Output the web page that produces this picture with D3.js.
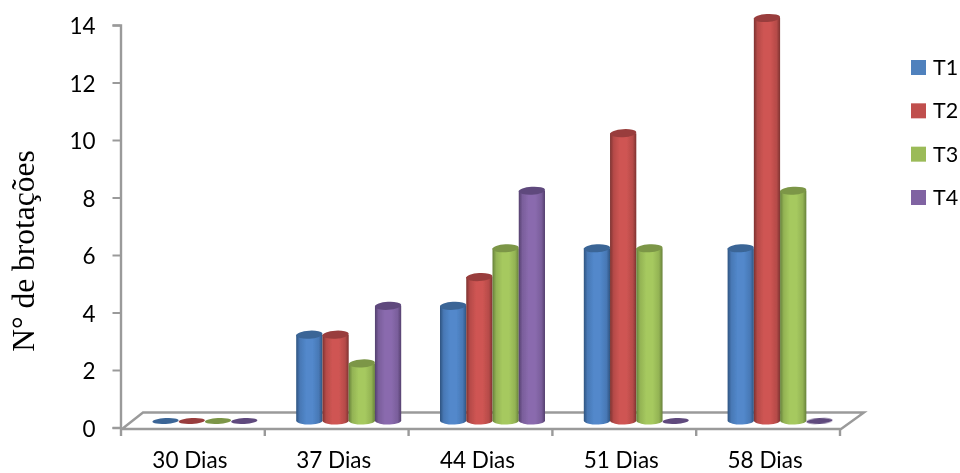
<!DOCTYPE html>
<html><head><meta charset="utf-8">
<script src="https://cdn.jsdelivr.net/npm/d3@7"></script>
<style>html,body{margin:0;padding:0;background:#fff}svg{display:block}</style>
</head><body><svg id="c" width="960" height="473"></svg>
<script>
const categories = ["30 Dias","37 Dias","44 Dias","51 Dias","58 Dias"];
const seriesNames = ["T1","T2","T3","T4"];
const t1 = [0,3,4,6,6];
const t2 = [0,3,5,10,14];
const t3 = [0,2,6,6,8];
const t4 = [0,4,8,0,0];
const seriesValues = [t1,t2,t3,t4];
const yTicks = [0,2,4,6,8,10,12,14];
const baseColors = ["#4f81bd","#c0504d","#9bbb59","#8064a2"];
const mid = ["#5288cb","#cf5553","#a6c95f","#8a6bae"];
const edge = ["#2f5480","#7d3230","#66803a","#54406e"];
const cap = ["#3a6596","#993e3c","#7b9647","#5f4a7d"];

const svg = d3.select("#c");
const gridCol = "#9a9a9a";
const defs = svg.append("defs");
const blur = defs.append("filter").attr("id","soft").attr("x","-5%").attr("y","-5%").attr("width","110%").attr("height","110%");
blur.append("feGaussianBlur").attr("stdDeviation",0.5);
baseColors.forEach((c,i)=>{
  const g = defs.append("linearGradient").attr("id","g"+i);
  [[0,edge[i]],[0.14,d3.interpolateRgb(edge[i],mid[i])(0.7)],[0.38,mid[i]],[0.62,mid[i]],[0.86,d3.interpolateRgb(edge[i],mid[i])(0.7)],[1,edge[i]]]
    .forEach(s=>g.append("stop").attr("offset",s[0]).attr("stop-color",s[1]));
});

const root = svg.append("g").attr("filter","url(#soft)");
const axisY = d3.scaleLinear().domain([0,14]).range([427.5,25]);
const barY = d3.scaleLinear().domain([0,14]).range([421,18]);
const xTick = d3.scalePoint().domain(d3.range(6)).range([121,840]);
const x0 = d3.scaleBand().domain(categories).range([121,840]).paddingInner(0).paddingOuter(0);
const gw = 105;
const x1 = d3.scaleBand().domain(seriesNames).range([0,gw]);

// floor
const floor = root.append("g").attr("fill","none").attr("stroke",gridCol).attr("stroke-width",2.4);
floor.append("path").attr("d",d3.line()([[122,429],[143,412.5],[864,412.5],[841,429],[122,429]]));
floor.selectAll("line.tick").data(d3.range(6)).join("line")
  .attr("x1",d=>xTick(d)).attr("x2",d=>xTick(d)).attr("y1",429).attr("y2",436);

// y axis
const ya = root.append("g").attr("transform","translate(120.5,0)")
  .call(d3.axisLeft(axisY).tickValues(yTicks).tickSize(8).tickPadding(17).tickFormat(d3.format("d")));
ya.select(".domain").attr("stroke",gridCol).attr("stroke-width",2.4);
ya.selectAll(".tick line").attr("stroke",gridCol).attr("stroke-width",2);
ya.selectAll("text").attr("font-family","Lato, 'Open Sans', sans-serif").attr("font-size",22.5).attr("fill","#000").attr("dy","0.38em");

// x labels
root.selectAll("text.cat").data(categories).join("text").attr("class","cat")
  .attr("x",d=>x0(d)+x0.bandwidth()/2-3).attr("y",468)
  .attr("text-anchor","middle").attr("font-family","Lato, 'Open Sans', sans-serif").attr("font-size",22.5).attr("fill","#000")
  .text(d=>d);

// title
root.append("text").attr("transform","translate(34,251) rotate(-90)").attr("text-anchor","middle")
  .attr("font-family","'Liberation Serif', serif").attr("font-size",31.5).attr("fill","#000").text("N° de brotações");

// cylinders
const ry = 4, tilt = -3.5;
categories.forEach((cat,ci)=>{
  const gx = x0(cat)+ (x0.bandwidth()-gw)/2 + 12;
  const g = root.append("g");
  seriesNames.forEach((s,si)=>{
    const v = seriesValues[si][ci];
    const left = gx+x1(s), w = x1.bandwidth(), cx = left+w/2, rx = w/2;
    const yTop = barY(v), yBase = barY(0);
    if (v>0){
      g.append("path").attr("fill",`url(#g${si})`)
        .attr("d",`M${left},${yTop}L${left},${yBase}A${rx},${ry} 0 0 0 ${left+w},${yBase-1}L${left+w},${yTop}Z`);
    }
    g.append("ellipse").attr("cx",cx).attr("cy",yTop).attr("rx",rx).attr("ry",v>0?ry:2.9)
      .attr("fill",cap[si]).attr("transform",`rotate(${tilt} ${cx} ${yTop})`);
  });
});

// legend
const lg = root.append("g").selectAll("g").data(seriesNames).join("g")
  .attr("transform",(d,i)=>`translate(911,${d3.scaleLinear().domain([0,3]).range([60,190])(i)})`);
lg.append("rect").attr("width",15).attr("height",15).attr("fill",(d,i)=>baseColors[i]);
lg.append("text").attr("x",22).attr("y",15).attr("font-family","Lato, 'Open Sans', sans-serif").attr("font-size",21.5).attr("fill","#000").text(d=>d);
</script></body></html>
